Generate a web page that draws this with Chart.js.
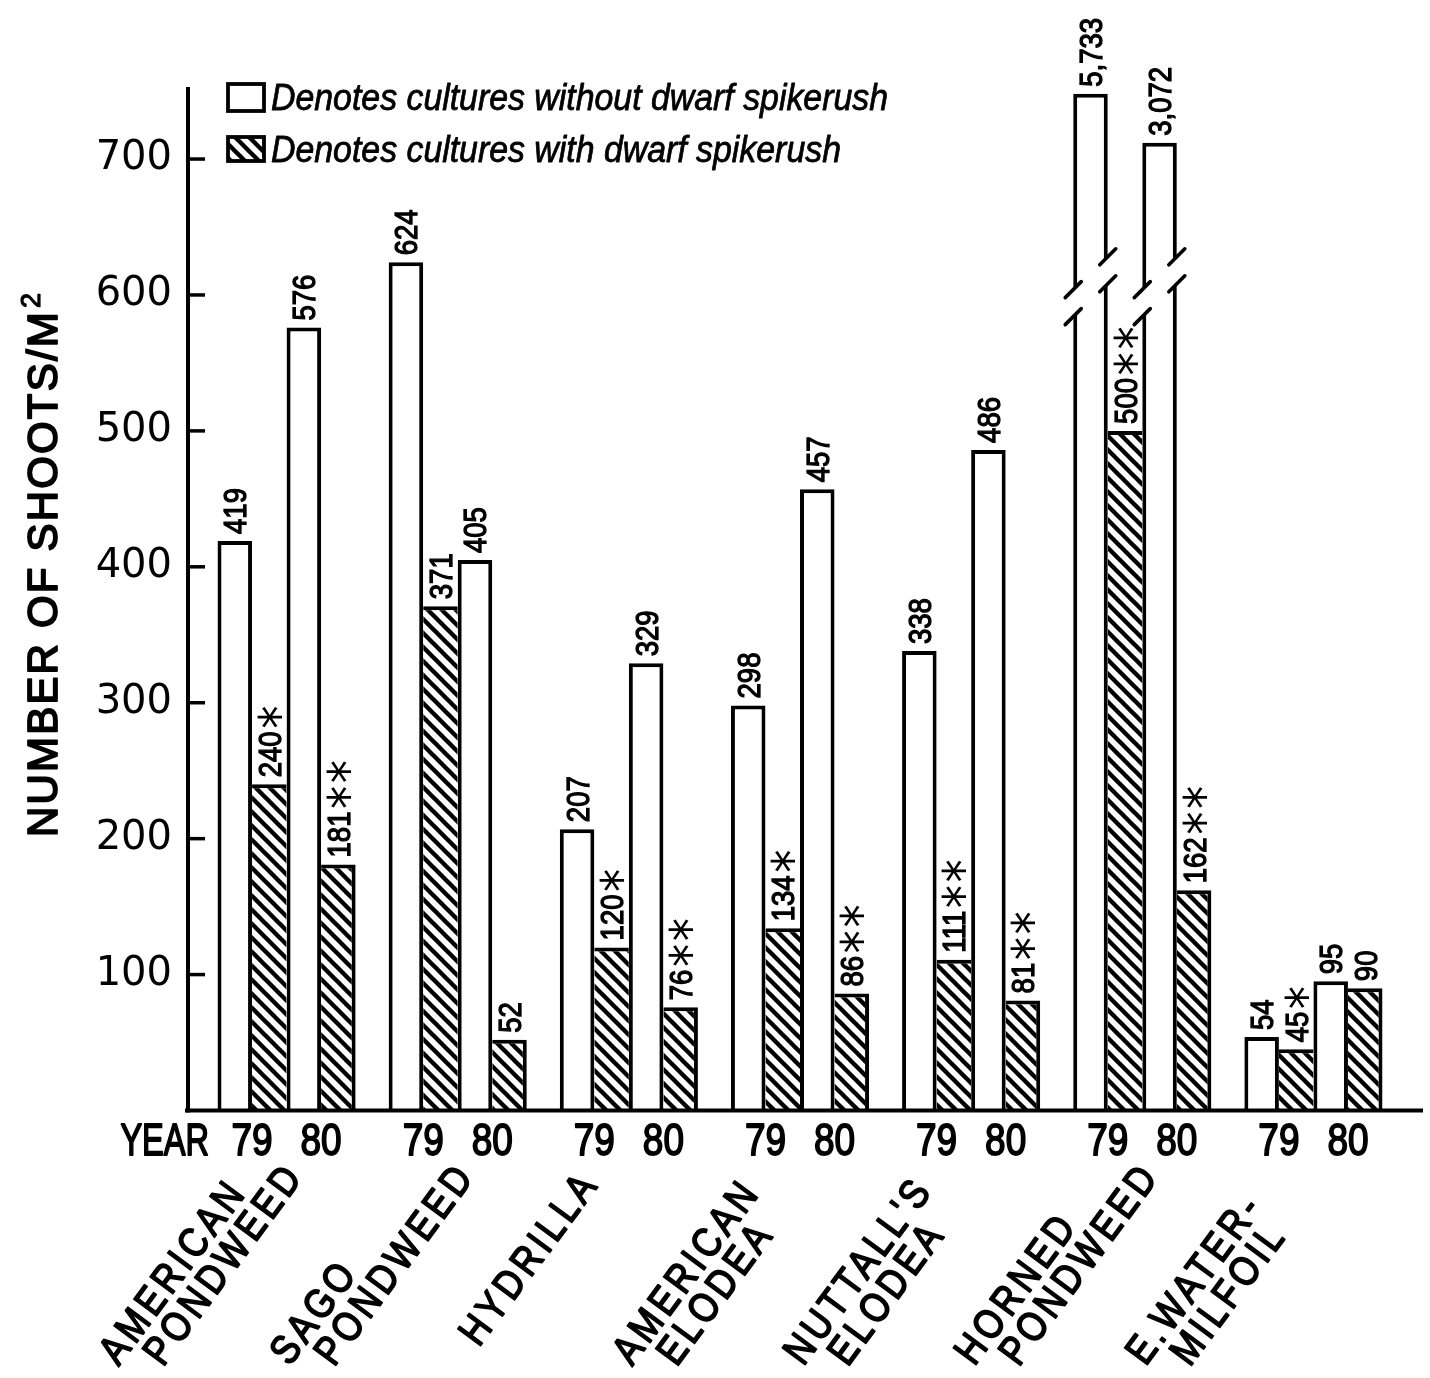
<!DOCTYPE html>
<html><head><meta charset="utf-8">
<script src="https://cdn.jsdelivr.net/npm/chart.js@4.4.1/dist/chart.umd.min.js"></script>
<style>html,body{margin:0;padding:0;background:#fff;}canvas{display:block}</style>
</head><body>
<canvas id="c" width="1430" height="1378"></canvas>
<script>
// ---------------- data ----------------
const species = [['AMERICAN','PONDWEED'],['SAGO','PONDWEED'],['HYDRILLA'],['AMERICAN','ELODEA'],["NUTTALL'S",'ELODEA'],['HORNED','PONDWEED'],['E.WATER-','MILFOIL']];
const years = ['79','80'];
const without79 = [419, 624, 207, 298, 338, 5733, 54];
const with79    = [240, 371, 120, 134, 111, 500, 45];
const without80 = [576, 405, 329, 457, 486, 3072, 95];
const with80    = [181, 52, 76, 86, 81, 162, 90];
const with79Sig = ['*', '', '*', '*', '**', '**', '*'];
const with80Sig = ['**', '', '**', '**', '**', '**', ''];
// tops at which the two off-scale (broken) bars are drawn
const without79BrokenTop = [null, null, null, null, null, 748, null];
const without80BrokenTop = [null, null, null, null, null, 712, null];
const yTicks = [100, 200, 300, 400, 500, 600, 700];
const yMax = 753;
const breakValue = 594;
const legendLabels = ['Denotes cultures without dwarf spikerush', 'Denotes cultures with dwarf spikerush'];
const yTitle = 'NUMBER OF SHOOTS/M';
const yTitleSup = '2';

// ---------------- styling ----------------
const canvas = document.getElementById('c');
const ctx0 = canvas.getContext('2d');
const HP = 14;
const hatch = (() => {
  const c = document.createElement('canvas'); c.width = HP; c.height = HP;
  const g = c.getContext('2d');
  g.fillStyle = '#fff'; g.fillRect(0, 0, HP, HP);
  g.strokeStyle = '#000'; g.lineWidth = 4.4;
  for (const o of [-HP, 0, HP]) { g.beginPath(); g.moveTo(o - 3, -3); g.lineTo(o + HP + 3, HP + 3); g.stroke(); }
  return ctx0.createPattern(c, 'repeat');
})();
const LW = 4;
const whiteBorder = {top: LW, left: LW, right: LW, bottom: 0};
const hatchBorder79 = {top: LW, left: 0, right: 0, bottom: 0};
const hatchBorder80 = {top: LW, left: 0, right: LW, bottom: 0};

const plotted = (vals, tops) => vals.map((v, i) => tops[i] != null ? tops[i] : v);

const SANS = '"Liberation Sans", Arial, sans-serif';
function txt(ctx, s, x, y, o) {
  ctx.save();
  ctx.translate(x, y);
  if (o.angle) ctx.rotate(o.angle);
  ctx.scale(o.sx || 1, 1);
  ctx.font = o.font;
  ctx.textAlign = o.align || 'left';
  ctx.textBaseline = o.baseline || 'alphabetic';
  if (o.ls) ctx.letterSpacing = o.ls;
  ctx.fillStyle = '#000';
  ctx.fillText(s, 0, 0);
  if (o.stroke) { ctx.strokeStyle = '#000'; ctx.lineWidth = o.stroke; ctx.lineJoin = 'round'; ctx.strokeText(s, 0, 0); }
  ctx.restore();
}

const VCAP = 23; // value label digit height
function valueLabel(ctx, x, yTop, num, sig) {
  const s = num >= 1000 ? num.toLocaleString('en-US') : String(num);
  ctx.save();
  ctx.translate(x + VCAP / 2, yTop - 7);
  ctx.rotate(-Math.PI / 2);
  ctx.scale(0.86, 1);
  ctx.fillStyle = '#000'; ctx.strokeStyle = '#000'; ctx.lineWidth = 1.3;
  ctx.font = '32px ' + SANS;
  ctx.textBaseline = 'alphabetic'; ctx.textAlign = 'left';
  ctx.fillText(s, 0, 0); ctx.strokeText(s, 0, 0);
  let u = ctx.measureText(s).width + 4;
  if (sig) {
    ctx.font = '54px "DejaVu Sans", sans-serif';
    const m = ctx.measureText('*');
    const v0 = -VCAP / 2 + (m.actualBoundingBoxAscent - m.actualBoundingBoxDescent) / 2;
    for (let k = 0; k < sig.length; k++) {
      ctx.fillText('*', u + m.actualBoundingBoxLeft, v0);
      u += (m.actualBoundingBoxLeft + m.actualBoundingBoxRight) + 5;
    }
  }
  ctx.restore();
}

const decor = {
  id: 'decor',
  afterDatasetsDraw(chart) {
    const ctx = chart.ctx, ys = chart.scales.y, xs = chart.scales.x, ca = chart.chartArea;
    ctx.save();
    // axes
    const axX = ca.left - 13, y0 = ys.getPixelForValue(0);
    ctx.strokeStyle = '#000'; ctx.lineCap = 'butt';
    ctx.lineWidth = 4;
    ctx.beginPath(); ctx.moveTo(axX, ys.getPixelForValue(yMax)); ctx.lineTo(axX, y0 + 2); ctx.stroke();
    ctx.beginPath(); ctx.moveTo(axX - 3, y0); ctx.lineTo(ca.right + 24, y0); ctx.stroke();
    ctx.lineWidth = 3.5;
    yTicks.forEach(t => { const py = ys.getPixelForValue(t); ctx.beginPath(); ctx.moveTo(axX, py); ctx.lineTo(axX + 17, py); ctx.stroke(); });

    // broken bars
    [[0, without79BrokenTop], [2, without80BrokenTop]].forEach(([di, tops]) => {
      const meta = chart.getDatasetMeta(di);
      tops.forEach((t, i) => {
        if (t == null) return;
        const el = meta.data[i];
        const L = el.x - el.width / 2, R = el.x + el.width / 2;
        const yL = ys.getPixelForValue(breakValue), s = 0.95, yR = yL - (R - L) * s, h = 13.5, e = 7;
        ctx.fillStyle = '#fff';
        ctx.beginPath();
        ctx.moveTo(L - e, yL - h + e * s); ctx.lineTo(R + e, yR - h - e * s);
        ctx.lineTo(R + e, yR + h - e * s); ctx.lineTo(L - e, yL + h + e * s); ctx.closePath(); ctx.fill();
        ctx.strokeStyle = '#000'; ctx.lineWidth = 3.6; ctx.lineCap = 'round';
        [[L, yL - h], [L, yL + h], [R, yR - h], [R, yR + h]].forEach(([px, py]) => {
          ctx.beginPath(); ctx.moveTo(px - 8, py + 8); ctx.lineTo(px + 8, py - 8); ctx.stroke();
        });
      });
    });

    // value labels
    const sets = [[without79, null], [with79, with79Sig], [without80, null], [with80, with80Sig]];
    sets.forEach(([vals, sig], di) => {
      const meta = chart.getDatasetMeta(di);
      vals.forEach((v, i) => { const el = meta.data[i]; valueLabel(ctx, el.x, el.y, v, sig ? sig[i] : ''); });
    });

    // year row
    const fReg = '44px ' + SANS;
    const m0 = chart.getDatasetMeta(0), m1 = chart.getDatasetMeta(1), m2 = chart.getDatasetMeta(2), m3 = chart.getDatasetMeta(3);
    species.forEach((sp, i) => {
      const c79 = (m0.data[i].x + m1.data[i].x) / 2, c80 = (m2.data[i].x + m3.data[i].x) / 2;
      txt(ctx, years[0], c79, 1155, {font: fReg, sx: 0.84, align: 'center', stroke: 1.8});
      txt(ctx, years[1], c80, 1155, {font: fReg, sx: 0.84, align: 'center', stroke: 1.8});
      // species names
      const cx = xs.getPixelForValue(i);
      const ang = -53.5 * Math.PI / 180;
      const so = {font: '41px ' + SANS, sx: 0.85, angle: ang, ls: '5px', stroke: 1.8};
      if (sp.length === 1) {
        txt(ctx, sp[0], cx - 150, 1348, so);
      } else {
        txt(ctx, sp[0], cx - 168, 1367, so);
        txt(ctx, sp[1], cx - 168 + 44.4, 1367 + 0.8, so);
      }
    });
    const first79 = (m0.data[0].x + m1.data[0].x) / 2;
    txt(ctx, 'YEAR', first79 - 43, 1155, {font: fReg, sx: 0.74, align: 'right', stroke: 1.8});

    // y title
    const tf = '42px ' + SANS;
    ctx.save(); ctx.font = tf; const w = ctx.measureText(yTitle).width; ctx.restore();
    const tls = (527 - w) / yTitle.length;
    txt(ctx, yTitle, 57, 837, {font: tf, angle: -Math.PI / 2, ls: tls.toFixed(2) + 'px', stroke: 1.8});
    txt(ctx, yTitleSup, 40, 837 - 527 - 2, {font: '27px ' + SANS, angle: -Math.PI / 2, stroke: 1.2});

    // legend
    ctx.lineWidth = 3.8; ctx.strokeStyle = '#000';
    ctx.fillStyle = '#fff'; ctx.fillRect(228, 84, 36, 27); ctx.strokeRect(228, 84, 36, 27);
    ctx.fillStyle = hatch; ctx.fillRect(228, 137, 36, 24); ctx.strokeRect(228, 137, 36, 24);
    const lf = 'italic 37px ' + SANS;
    ctx.font = lf;
    const lsx = 617 / ctx.measureText(legendLabels[0]).width;
    txt(ctx, legendLabels[0], 271, 110, {font: lf, sx: lsx, stroke: 0.8});
    txt(ctx, legendLabels[1], 271, 162, {font: lf, sx: lsx, stroke: 0.8});
    ctx.restore();
  }
};

new Chart(canvas, {
  type: 'bar',
  data: {
    labels: species.map(s => s.join(' ')),
    datasets: [
      {label: 'without 79', data: plotted(without79, without79BrokenTop), backgroundColor: '#fff', borderColor: '#000', borderWidth: whiteBorder},
      {label: 'with 79', data: with79, backgroundColor: hatch, borderColor: '#000', borderWidth: hatchBorder79},
      {label: 'without 80', data: plotted(without80, without80BrokenTop), backgroundColor: '#fff', borderColor: '#000', borderWidth: whiteBorder},
      {label: 'with 80', data: with80, backgroundColor: hatch, borderColor: '#000', borderWidth: hatchBorder80}
    ]
  },
  options: {
    responsive: false, animation: false, devicePixelRatio: 1,
    layout: {padding: {top: 87, right: 31, bottom: 267.5, left: 0}},
    datasets: {bar: {categoryPercentage: 0.807, barPercentage: 1.0, borderSkipped: 'start', inflateAmount: 0}},
    plugins: {legend: {display: false}, tooltip: {enabled: false}, title: {display: false}},
    scales: {
      x: {type: 'category', display: false, offset: true, grid: {display: false}},
      y: {
        type: 'linear', min: 0, max: yMax,
        afterBuildTicks: s => { s.ticks = yTicks.map(v => ({value: v})); },
        afterFit: s => { s.width = 201; },
        grid: {display: false, drawTicks: false}, border: {display: false},
        ticks: {color: '#000', padding: 29, font: {family: 'DejaVu Sans', size: 40}, callback: v => String(v)}
      }
    }
  },
  plugins: [decor]
});
</script>
</body></html>
